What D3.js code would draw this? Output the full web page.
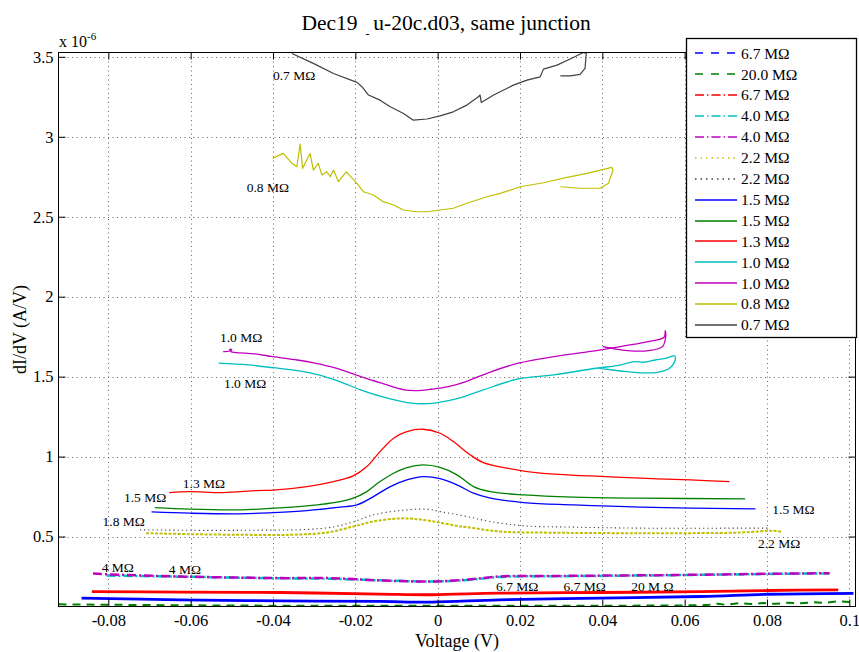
<!DOCTYPE html>
<meta charset="utf-8">
<script src="https://d3js.org/d3.v7.min.js"></script>
<style>
  body { margin: 0; background: #fff; }
  text { font-family: "Liberation Serif", "Times New Roman", serif; fill: #000; }
</style>
<div id="chart"></div>
<script>

// tick values
var xTicks = [-0.08, -0.06, -0.04, -0.02, 0, 0.02, 0.04, 0.06, 0.08, 0.1];
var yTicks = [0.5, 1, 1.5, 2, 2.5, 3, 3.5];

// legend labels (plot order)
var legendLabels = ["6.7 M\u03A9", "20.0 M\u03A9", "6.7 M\u03A9", "4.0 M\u03A9", "4.0 M\u03A9", "2.2 M\u03A9", "2.2 M\u03A9",
                    "1.5 M\u03A9", "1.5 M\u03A9", "1.3 M\u03A9", "1.0 M\u03A9", "1.0 M\u03A9", "0.8 M\u03A9", "0.7 M\u03A9"];

// data: voltage (V) and dI/dV (x 1e-6 A/V)
var v_b67 = [-0.0865, -0.0626, -0.0383, -0.0140, -0.0015, 0.0149, 0.0395, 0.0640, 0.0805, 0.1010];
var g_b67 = [0.115, 0.104, 0.098, 0.094, 0.090, 0.104, 0.115, 0.125, 0.139, 0.145];

var v_g20 = [-0.0921, -0.0626, -0.0334, 0, 0.0395, 0.0640, 0.0660, 0.0680, 0.0700, 0.0730, 0.0760, 0.0790, 0.0820, 0.0850, 0.0880, 0.0910, 0.0940, 0.0970, 0.1000];
var g_g20 = [0.076, 0.070, 0.067, 0.067, 0.067, 0.070, 0.074, 0.080, 0.073, 0.083, 0.078, 0.084, 0.079, 0.086, 0.082, 0.089, 0.085, 0.095, 0.090];

var v_r67 = [-0.0840, -0.0626, -0.0383, -0.0140, -0.0015, 0.0149, 0.0395, 0.0640, 0.0805, 0.0973];
var g_r67 = [0.156, 0.1525, 0.150, 0.140, 0.136, 0.146, 0.150, 0.156, 0.1625, 0.167];

var v_c40 = [-0.0804, -0.0626, -0.0383, -0.0261, -0.0138, -0.0015, 0.0067, 0.0149, 0.0313, 0.0559, 0.0805, 0.0952];
var g_c40 = [0.256, 0.249, 0.239, 0.236, 0.226, 0.219, 0.227, 0.247, 0.252, 0.258, 0.266, 0.270];

var v_m40 = [-0.0837, -0.0804, -0.0626, -0.0383, -0.0261, -0.0138, -0.0015, 0.0067, 0.0149, 0.0313, 0.0559, 0.0805, 0.0952];
var g_m40 = [0.269, 0.264, 0.250, 0.240, 0.240, 0.225, 0.219, 0.229, 0.250, 0.254, 0.259, 0.267, 0.271];

var v_y22 = [-0.0708, -0.0602, -0.0480, -0.0358, -0.0269, -0.0205, -0.0156, -0.0099, -0.0059, -0.0010, 0.0047, 0.0071, 0.0152, 0.0249, 0.0492, 0.0735, 0.0816, 0.0837];
var g_y22 = [0.521, 0.515, 0.511, 0.511, 0.525, 0.5625, 0.594, 0.6125, 0.611, 0.594, 0.567, 0.559, 0.531, 0.525, 0.521, 0.525, 0.536, 0.529];

var v_k22 = [-0.0723, -0.0480, -0.0269, -0.0205, -0.0156, -0.0091, -0.0026, 0.0006, 0.0071, 0.0128, 0.0209, 0.0330, 0.0492, 0.0735, 0.0804];
var g_k22 = [0.542, 0.539, 0.554, 0.592, 0.636, 0.6625, 0.671, 0.656, 0.625, 0.594, 0.567, 0.559, 0.5525, 0.5525, 0.5525];

var v_b15 = [-0.0695, -0.0602, -0.0480, -0.0399, -0.0318, -0.0237, -0.0196, -0.0156, -0.0115, -0.0075, -0.0035, 0.0006, 0.0047, 0.0087, 0.0128, 0.0209, 0.0330, 0.0492, 0.0772];
var g_b15 = [0.654, 0.646, 0.642, 0.650, 0.6625, 0.684, 0.698, 0.750, 0.8125, 0.854, 0.875, 0.862, 0.823, 0.771, 0.740, 0.7125, 0.698, 0.684, 0.673];

var v_g15 = [-0.0687, -0.0602, -0.0480, -0.0399, -0.0318, -0.0237, -0.0205, -0.0172, -0.0140, -0.0107, -0.0075, -0.0035, 0.0006, 0.0047, 0.0087, 0.0128, 0.0209, 0.0330, 0.0492, 0.0747];
var g_g15 = [0.681, 0.671, 0.667, 0.6775, 0.692, 0.719, 0.740, 0.781, 0.844, 0.896, 0.931, 0.948, 0.9325, 0.886, 0.8125, 0.781, 0.760, 0.746, 0.740, 0.736];

var v_r13 = [-0.0652, -0.0602, -0.0521, -0.0439, -0.0399, -0.0318, -0.0253, -0.0205, -0.0172, -0.0140, -0.0107, -0.0075, -0.0035, 0.0006, 0.0038, 0.0079, 0.0111, 0.0168, 0.0249, 0.0371, 0.0492, 0.0614, 0.0709];
var g_r13 = [0.775, 0.781, 0.775, 0.7875, 0.790, 0.8125, 0.844, 0.879, 0.9375, 1.031, 1.115, 1.156, 1.171, 1.146, 1.094, 1.011, 0.9625, 0.9275, 0.896, 0.879, 0.865, 0.854, 0.844];

var v_c10 = [-0.0532, -0.0460, -0.0400, -0.0341, -0.0289, -0.0238, -0.0187, -0.0136, -0.0064, -0.0025, 0.0000, 0.0052, 0.0111, 0.0196, 0.0282, 0.0384, 0.0440, 0.0478, 0.0500, 0.0529, 0.0550, 0.0576, 0.0577, 0.0563, 0.0529, 0.0461, 0.0393];
var g_c10 = [1.584, 1.573, 1.556, 1.5375, 1.511, 1.469, 1.417, 1.375, 1.334, 1.331, 1.3375, 1.365, 1.417, 1.486, 1.511, 1.5525, 1.570, 1.594, 1.590, 1.604, 1.612, 1.629, 1.604, 1.5525, 1.525, 1.531, 1.5525];

var v_m10 = [-0.0521, -0.0506, -0.0504, -0.0500, -0.0503, -0.0443, -0.0400, -0.0341, -0.0298, -0.0247, -0.0187, -0.0136, -0.0081, -0.0051, -0.0017, 0.0026, 0.0069, 0.0120, 0.0196, 0.0282, 0.0367, 0.0452, 0.0512, 0.0550, 0.0553, 0.0554, 0.0546, 0.0512, 0.0461, 0.0401];
var g_m10 = [1.656, 1.660, 1.672, 1.666, 1.657, 1.642, 1.625, 1.604, 1.584, 1.5525, 1.500, 1.459, 1.417, 1.4125, 1.421, 1.4375, 1.469, 1.521, 1.584, 1.625, 1.656, 1.692, 1.719, 1.746, 1.7875, 1.750, 1.6875, 1.6625, 1.6625, 1.6875];

var v_y08 = [-0.0401, -0.0375, -0.0354, -0.0342, -0.0334, -0.0328, -0.0310, -0.0302, -0.0290, -0.0281, -0.0269, -0.0261, -0.0253, -0.0241, -0.0222, -0.0196, -0.0180, -0.0156, -0.0132, -0.0107, -0.0083, -0.0051, -0.0026, 0.0006, 0.0038, 0.0071, 0.0120, 0.0152, 0.0201, 0.0257, 0.0314, 0.0363, 0.0423, 0.0426, 0.0415, 0.0395, 0.0346, 0.0298];
var g_y08 = [2.865, 2.896, 2.834, 2.8125, 2.954, 2.8025, 2.896, 2.792, 2.834, 2.761, 2.781, 2.750, 2.792, 2.719, 2.781, 2.709, 2.656, 2.636, 2.594, 2.573, 2.542, 2.531, 2.531, 2.542, 2.553, 2.584, 2.625, 2.646, 2.6875, 2.7125, 2.746, 2.771, 2.809, 2.792, 2.709, 2.678, 2.678, 2.6875];

var v_k07 = [-0.0354, -0.0302, -0.0253, -0.0196, -0.0184, -0.0168, -0.0140, -0.0115, -0.0083, -0.0059, -0.0026, 0.0006, 0.0038, 0.0071, 0.0099, 0.0103, 0.0106, 0.0136, 0.0184, 0.0217, 0.0249, 0.0257, 0.0290, 0.0322, 0.0354, 0.0361, 0.0358, 0.0346, 0.0322, 0.0298];
var g_k07 = [3.521, 3.459, 3.396, 3.340, 3.313, 3.261, 3.229, 3.188, 3.146, 3.104, 3.111, 3.131, 3.156, 3.198, 3.250, 3.261, 3.215, 3.261, 3.323, 3.354, 3.375, 3.423, 3.448, 3.486, 3.527, 3.521, 3.428, 3.390, 3.381, 3.381];

// text annotations inside the axes (data coords)
var annText = ["0.7 M\u03A9", "0.8 M\u03A9", "1.0 M\u03A9", "1.0 M\u03A9", "1.3 M\u03A9", "1.5 M\u03A9", "1.8 M\u03A9",
               "4 M\u03A9", "4 M\u03A9", "1.5 M\u03A9", "2.2 M\u03A9", "6.7 M\u03A9", "6.7 M\u03A9", "20 M \u03A9"];
var annV = [-0.0400, -0.0464, -0.0529, -0.0519, -0.0619, -0.0762, -0.0814, -0.0816, -0.0653, 0.0813, 0.0778, 0.0142, 0.0306, 0.0470];
var annG = [3.3575, 2.6575, 1.714, 1.429, 0.804, 0.714, 0.564, 0.276, 0.267, 0.642, 0.429, 0.1575, 0.1575, 0.1575];

// styles, same order as the legend
var vs = [v_b67, v_g20, v_r67, v_c40, v_m40, v_y22, v_k22, v_b15, v_g15, v_r13, v_c10, v_m10, v_y08, v_k07];
var gs = [g_b67, g_g20, g_r67, g_c40, g_m40, g_y22, g_k22, g_b15, g_g15, g_r13, g_c10, g_m10, g_y08, g_k07];
var colors = ["#0000ff", "#008000", "#ff0000", "#00bfbf", "#bf00bf", "#bfbf00", "#404040",
              "#0000ff", "#008000", "#ff0000", "#00bfbf", "#bf00bf", "#bfbf00", "#404040"];
var legendDash = ["8,8", "8,8", "9,3,1.5,3", "9,3,1.5,3", "9,3,1.5,3", "1.5,4", "1.5,4", null, null, null, null, null, null, null];
var plotDash = [null, "8,6", null, "9,3,2,3", "9,3,2,3", "3,1.5", "1.2,3", null, null, null, null, null, null, null];
var plotWidth = [2.8, 2, 2.8, 2.5, 2.5, 2, 1.1, 1.3, 1.3, 1.3, 1.3, 1.3, 1.2, 1.2];
var smooth = [1, 0, 1, 1, 1, 1, 1, 1, 1, 1, 1, 1, 0, 0];

var width = 859, height = 652;
var pL = 58.5, pR = 855.5, pT = 52.5, pB = 606.5;

var svg = d3.select("#chart").append("svg")
    .attr("width", width)
    .attr("height", height);

var x = d3.scaleLinear().domain([-0.0921, 0.1015]).range([pL, pR]);
var y = d3.scaleLinear().domain([0.0625, 3.527]).range([pB, pT]);

// grid
var grid = svg.append("g")
    .attr("stroke", "#666")
    .attr("stroke-width", 1)
    .attr("stroke-dasharray", "1,3.5");
grid.selectAll(".gx").data(xTicks).enter().append("line")
    .attr("x1", function(d) { return Math.round(x(d)) + 0.5; })
    .attr("x2", function(d) { return Math.round(x(d)) + 0.5; })
    .attr("y1", pT).attr("y2", pB);
grid.selectAll(".gy").data(yTicks).enter().append("line")
    .attr("y1", function(d) { return Math.round(y(d)) + 0.5; })
    .attr("y2", function(d) { return Math.round(y(d)) + 0.5; })
    .attr("x1", pL).attr("x2", pR);

// data lines
svg.append("clipPath").attr("id", "clip")
  .append("rect").attr("x", pL).attr("y", pT - 1).attr("width", pR - pL).attr("height", pB - pT + 1);

var plotG = svg.append("g").attr("clip-path", "url(#clip)");
vs.forEach(function(vArr, i) {
  var pts = vArr.map(function(v, j) { return [v, gs[i][j]]; });
  var line = d3.line()
      .x(function(d) { return x(d[0]); })
      .y(function(d) { return y(d[1]); })
      .curve(smooth[i] ? d3.curveCatmullRom.alpha(0.5) : d3.curveLinear);
  plotG.append("path")
      .datum(pts)
      .attr("d", line)
      .attr("fill", "none")
      .attr("stroke", colors[i])
      .attr("stroke-width", plotWidth[i])
      .attr("stroke-dasharray", plotDash[i])
      .attr("stroke-linejoin", "round");
});

// annotations
svg.append("g").selectAll("text").data(annText).enter().append("text")
    .attr("x", function(d, i) { return x(annV[i]); })
    .attr("y", function(d, i) { return y(annG[i]); })
    .style("font-size", "13.5px")
    .text(function(d) { return d; });

// axes, ticks pointing inwards on all sides
function fmtX(d) { return d === 0 ? "0" : String(+d.toFixed(2)); }
var ax = svg.append("g").attr("transform", "translate(0," + pB + ")")
    .call(d3.axisBottom(x).tickValues(xTicks).tickSizeInner(-7).tickSizeOuter(0).tickPadding(8).tickFormat(fmtX));
var ay = svg.append("g").attr("transform", "translate(" + pL + ",0)")
    .call(d3.axisLeft(y).tickValues(yTicks).tickSizeInner(-7).tickSizeOuter(0).tickPadding(5).tickFormat(function(d) { return String(d); }));
var at = svg.append("g").attr("transform", "translate(0," + pT + ")")
    .call(d3.axisTop(x).tickValues(xTicks).tickSizeInner(-7).tickSizeOuter(0).tickFormat(""));
var ar = svg.append("g").attr("transform", "translate(" + pR + ",0)")
    .call(d3.axisRight(y).tickValues(yTicks).tickSizeInner(-7).tickSizeOuter(0).tickFormat(""));
[ax, ay, at, ar].forEach(function(a) {
  a.select(".domain").remove();
  a.selectAll("line").attr("stroke", "#000");
  a.selectAll("text").style("font-family", "Liberation Serif").style("font-size", "16.5px").attr("fill", "#000");
});

svg.append("rect")
    .attr("x", pL).attr("y", pT)
    .attr("width", pR - pL).attr("height", pB - pT)
    .attr("fill", "none").attr("stroke", "#000").attr("stroke-width", 1);

// exponent label
var ex = svg.append("text").attr("x", 59).attr("y", 47).style("font-size", "16px");
ex.append("tspan").text("x 10");
ex.append("tspan").attr("dy", -7).style("font-size", "11px").text("-6");

// title
var title = svg.append("text").attr("x", 301.5).attr("y", 29.5).style("font-size", "21.5px");
title.append("tspan").text("Dec19");
title.append("tspan").attr("x", 365.5).attr("dy", 8.5).style("font-size", "12px").text("-");
title.append("tspan").attr("x", 373.3).attr("dy", -8.5).text("u-20c.d03, same junction");

// axis labels
svg.append("text")
    .attr("x", (pL + pR) / 2).attr("y", 646.5)
    .attr("text-anchor", "middle")
    .style("font-size", "18px")
    .text("Voltage (V)");
svg.append("text")
    .attr("transform", "translate(26," + ((pT + pB) / 2) + ") rotate(-90)")
    .attr("text-anchor", "middle")
    .style("font-size", "18px")
    .text("dI/dV (A/V)");

// legend
var lx = 686.5, ly = 38.5, lw = 170, lh = 299, rowH = 20.9, row0 = 53.3;
var legend = svg.append("g");
legend.append("rect")
    .attr("x", lx).attr("y", ly).attr("width", lw).attr("height", lh)
    .attr("fill", "#fff").attr("stroke", "#000").attr("stroke-width", 1.3);
legendLabels.forEach(function(lab, i) {
  var yy = row0 + i * rowH;
  var yl = Math.round(yy);
  legend.append("line")
      .attr("x1", 695).attr("x2", 737).attr("y1", yl).attr("y2", yl)
      .attr("stroke", colors[i]).attr("stroke-width", 1.5)
      .attr("stroke-dasharray", legendDash[i]);
  legend.append("text")
      .attr("x", 741).attr("y", yy + 5.3)
      .style("font-size", "15.5px")
      .text(lab);
});

</script>
